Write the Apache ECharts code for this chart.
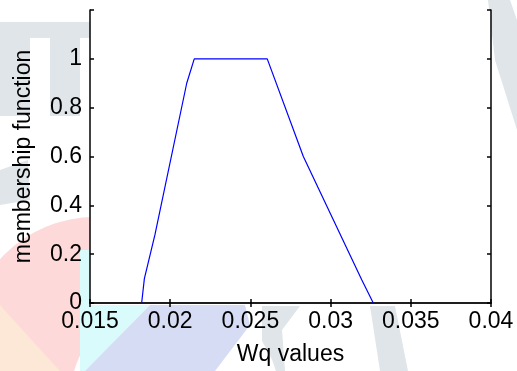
<!DOCTYPE html>
<html>
<head>
<meta charset="utf-8">
<script src="https://cdn.jsdelivr.net/npm/echarts@6/dist/echarts.min.js"></script>
<style>
  html, body { margin: 0; padding: 0; background: #fff; }
  #chart { width: 517px; height: 371px; }
</style>
</head>
<body>
<div id="chart"></div>
<script>
// Wq values against membership degree
const wqValues = [0.01822, 0.01839, 0.01905, 0.02103, 0.0215, 0.02605, 0.0283, 0.03194, 0.03266];
const membership = [0, 0.10, 0.28, 0.90, 1.0, 1.0, 0.60, 0.095, 0];

const xLabels = ["0.015", "0.02", "0.025", "0.03", "0.035", "0.04"];
const yLabels = ["0", "0.2", "0.4", "0.6", "0.8", "1", ""];

const FONT = "Liberation Sans";

// faint watermark behind the figure, with the plot box kept white
const GRAY = "#dfe5e8";
const watermark = [
  { type: "rect", shape: { x: 0, y: 22, width: 90, height: 16 }, style: { fill: GRAY } },
  { type: "rect", shape: { x: 0, y: 38, width: 30, height: 78 }, style: { fill: GRAY } },
  { type: "rect", shape: { x: 50, y: 38, width: 30, height: 78 }, style: { fill: GRAY } },
  { type: "polygon", shape: { points: [[0, 170], [28, 160], [30, 200], [0, 205]] }, style: { fill: GRAY } },
  { type: "polygon", shape: { points: [[488, 0], [510, 0], [517, 20], [517, 130], [495, 60]] }, style: { fill: GRAY } },
  { type: "polygon", shape: { points: [[370, 306], [395, 306], [408, 371], [380, 371]] }, style: { fill: GRAY } },
  { type: "polygon", shape: { points: [[262, 306], [300, 306], [282, 330], [285, 371], [268, 371], [262, 340]] }, style: { fill: GRAY } },
  { type: "circle", shape: { cx: 95, cy: 345, r: 128 }, style: { fill: "#fdd9d9" } },
  { type: "polygon", shape: { points: [[0, 305], [60, 371], [0, 371]] }, style: { fill: "#fde7d6" } },
  { type: "circle", shape: { cx: 175, cy: 400, r: 105 }, style: { fill: "#fff" } },
  { type: "polygon", shape: { points: [[80, 250], [90, 250], [150, 305], [85, 371], [80, 371]] }, style: { fill: "#d9fbfb" } },
  { type: "polygon", shape: { points: [[150, 305], [245, 305], [250, 325], [215, 371], [85, 371]] }, style: { fill: "#d6dcf4" } },
  { type: "rect", shape: { x: 90, y: 10, width: 401, height: 295 }, style: { fill: "#fff" } },
].map((el) => ({ ...el, silent: true, z: -100 }));

const chart = echarts.init(document.getElementById("chart"), null, { renderer: "canvas" });

const axisCommon = {
  axisLine: { show: true, lineStyle: { color: "#111", width: 1.6 } },
  axisTick: { show: true, inside: true, length: 4, lineStyle: { color: "#000", width: 1.5 } },
  splitLine: { show: false },
};

chart.setOption({
  animation: false,
  backgroundColor: "transparent",
  graphic: { elements: watermark },
  grid: {
    left: 90,
    right: 26,
    top: 10,
    bottom: 66,
    show: false,
  },
  xAxis: [
    {
      ...axisCommon,
      type: "value",
      min: 0.015,
      max: 0.04,
      interval: 0.005,
      position: "bottom",
      name: "Wq values",
      nameLocation: "middle",
      nameGap: 40,
      nameTextStyle: { fontFamily: FONT, fontSize: 23, color: "#000" },
      axisLabel: {
        fontFamily: FONT,
        fontSize: 23,
        color: "#000",
        margin: 7,
        formatter: (v) => xLabels[Math.round((v - 0.015) / 0.005)],
      },
    },
    {
      ...axisCommon,
      type: "value",
      min: 0.015,
      max: 0.04,
      interval: 0.005,
      position: "top",
      axisLabel: { show: false },
    },
  ],
  yAxis: [
    {
      ...axisCommon,
      type: "value",
      min: 0,
      max: 1.2,
      interval: 0.2,
      position: "left",
      name: "membership function",
      nameLocation: "middle",
      nameGap: 55,
      nameTextStyle: { fontFamily: FONT, fontSize: 23, color: "#000" },
      axisLabel: {
        fontFamily: FONT,
        fontSize: 23,
        color: "#000",
        margin: 8,
        formatter: (v) => yLabels[Math.round(v / 0.2)],
      },
    },
    {
      ...axisCommon,
      type: "value",
      min: 0,
      max: 1.2,
      interval: 0.2,
      position: "right",
      axisLabel: { show: false },
    },
  ],
  series: [
    {
      type: "line",
      data: wqValues.map((x, i) => [x, membership[i]]),
      showSymbol: false,
      smooth: false,
      lineStyle: { color: "#0000ff", width: 1.2 },
      z: 3,
    },
  ],
});
</script>
</body>
</html>
